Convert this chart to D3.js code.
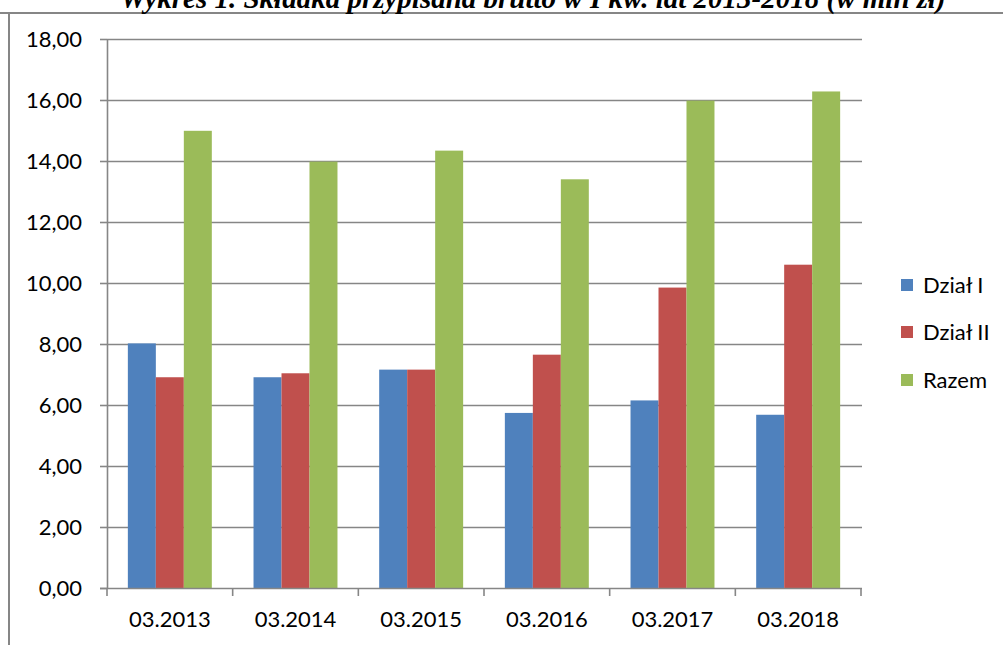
<!DOCTYPE html>
<html>
<head>
<meta charset="utf-8">
<script src="https://cdn.jsdelivr.net/npm/d3@7"></script>
<style>
  html, body { margin: 0; padding: 0; background: #fff; }
  svg { display: block; }
</style>
</head>
<body>
<svg id="chart" width="1003" height="645"></svg>
<script>
const title = "Wykres 1. Składka przypisana brutto w I kw. lat 2013-2018 (w mln zł)";
const categories = ["03.2013", "03.2014", "03.2015", "03.2016", "03.2017", "03.2018"];
const seriesNames = ["Dział I", "Dział II", "Razem"];
const dzialI  = [8.02, 6.91, 7.16, 5.74, 6.15, 5.68];
const dzialII = [6.91, 7.04, 7.16, 7.65, 9.85, 10.60];
const razem   = [14.99, 13.98, 14.34, 13.40, 15.98, 16.28];
const yTicks = [0, 2, 4, 6, 8, 10, 12, 14, 16, 18];
const colors = ["#4F81BD", "#C0504D", "#9BBB59"];

const seriesValues = [dzialI, dzialII, razem];
const svg = d3.select("#chart");
const gridColor = "#868686";
const font = "Lato, 'Open Sans', sans-serif";

// frame lines
svg.append("line").attr("x1", 0).attr("x2", 1003).attr("y1", 13).attr("y2", 13)
  .attr("stroke", gridColor).attr("stroke-width", 2);
svg.append("line").attr("x1", 9).attr("x2", 9).attr("y1", 13).attr("y2", 645)
  .attr("stroke", gridColor).attr("stroke-width", 2);

// title (clipped at top, as in the reference)
svg.append("text").attr("x", 533).attr("y", 8).attr("text-anchor", "middle")
  .attr("font-family", "'Liberation Serif', 'Times New Roman', serif")
  .attr("font-weight", "bold").attr("font-style", "italic")
  .attr("font-size", 29).attr("fill", "#000").text(title);

const x0 = d3.scaleBand().domain(categories).range([107, 861]).padding(0);
const x1 = d3.scaleBand().domain(seriesNames).range([0, x0.bandwidth()])
  .paddingInner(0).paddingOuter(0.745);
const y = d3.scaleLinear().domain([0, 18]).range([588, 39]);

const locale = d3.formatLocale({decimal: ",", thousands: " ", grouping: [3], currency: ["", " zł"]});
const fmt = locale.format(".2f");

// gridlines
svg.append("g").selectAll("line").data(yTicks.filter(d => d > 0)).join("line")
  .attr("x1", 107).attr("x2", 862)
  .attr("y1", d => Math.round(y(d)) + 0.5).attr("y2", d => Math.round(y(d)) + 0.5)
  .attr("stroke", gridColor).attr("stroke-width", 1.6);

// bars
const data = [];
categories.forEach((c, i) => {
  seriesNames.forEach((s, j) => data.push({c, s, v: seriesValues[j][i], j}));
});
svg.append("g").selectAll("rect").data(data).join("rect")
  .attr("x", d => x0(d.c) + x1(d.s))
  .attr("width", x1.bandwidth())
  .attr("y", d => y(d.v))
  .attr("height", d => y(0) - y(d.v))
  .attr("fill", d => colors[d.j]);

// y axis
const yAxis = svg.append("g").attr("transform", "translate(107,0)")
  .call(d3.axisLeft(y).tickValues(yTicks).tickFormat(fmt).tickSize(7).tickPadding(18).tickSizeOuter(0));
yAxis.select(".domain").attr("stroke", gridColor).attr("stroke-width", 1.6);
yAxis.selectAll(".tick line").attr("stroke", gridColor).attr("stroke-width", 1.6);
yAxis.selectAll("text").attr("font-family", font).attr("font-size", 22).attr("fill", "#000");

// x axis
const xAxis = svg.append("g").attr("transform", "translate(0,588)")
  .call(d3.axisBottom(x0).tickSize(0).tickPadding(23).tickSizeOuter(0));
xAxis.select(".domain").attr("stroke", gridColor).attr("stroke-width", 1.6)
  .attr("d", "M100,0.5H862");
xAxis.selectAll("text").attr("font-family", font).attr("font-size", 22).attr("fill", "#000");
const bounds = categories.map(c => x0(c)).concat([x0.range()[1]]);
xAxis.append("g").selectAll("line").data(bounds).join("line")
  .attr("x1", d => d).attr("x2", d => d).attr("y1", 0).attr("y2", 8)
  .attr("stroke", gridColor).attr("stroke-width", 1.6);

// legend
const legend = svg.append("g");
const ly = [285, 332, 380];
seriesNames.forEach((s, i) => {
  legend.append("rect").attr("x", 901).attr("y", ly[i] - 6).attr("width", 12).attr("height", 12)
    .attr("fill", colors[i]);
  legend.append("text").attr("x", 923).attr("y", ly[i]).attr("dy", "0.35em")
    .attr("font-family", font).attr("font-size", 22).attr("fill", "#000").text(s);
});
</script>
</body>
</html>
